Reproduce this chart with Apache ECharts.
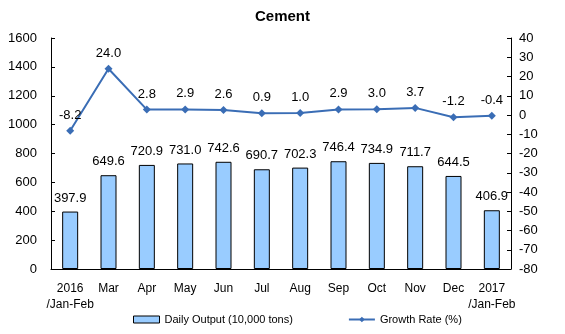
<!DOCTYPE html>
<html>
<head>
<meta charset="utf-8">
<script src="https://cdn.jsdelivr.net/npm/echarts@6/dist/echarts.min.js"></script>
<style>
html,body{margin:0;padding:0;background:#fff;}
#chart{width:565px;height:334px;}
</style>
</head>
<body>
<div id="chart"></div>
<script>
// Monthly cement figures
const categories = ['2016\n/Jan-Feb','Mar','Apr','May','Jun','Jul','Aug','Sep','Oct','Nov','Dec','2017\n/Jan-Feb'];
const dailyOutput = [397.9, 649.6, 720.9, 731.0, 742.6, 690.7, 702.3, 746.4, 734.9, 711.7, 644.5, 406.9];
const growthRate = [-8.2, 24.0, 2.8, 2.9, 2.6, 0.9, 1.0, 2.9, 3.0, 3.7, -1.2, -0.4];

const font = 'Liberation Sans, Arial, sans-serif';
const chart = echarts.init(document.getElementById('chart'));
chart.setOption({
  animation: false,
  textStyle: { fontFamily: font },
  title: {
    text: 'Cement', left: 'center', top: 4,
    textStyle: { fontFamily: font, fontSize: 15, fontWeight: 'bold', color: '#000' }
  },
  grid: { left: 51, right: 54, top: 38, bottom: 65 },
  legend: {
    bottom: 4, left: 128, itemGap: 55, itemWidth: 26, itemHeight: 7,
    textStyle: { fontFamily: font, fontSize: 11, color: '#000' },
    data: [
      { name: 'Daily Output (10,000 tons)', icon: 'rect', itemStyle: { borderColor: '#000', borderWidth: 1 } },
      { name: 'Growth Rate (%)' }
    ]
  },
  xAxis: {
    type: 'category', data: categories,
    axisLine: { lineStyle: { color: '#000' } },
    axisTick: { inside: true, length: 4, lineStyle: { color: '#000' } },
    axisLabel: { interval: 0, color: '#000', fontSize: 12, margin: 12, lineHeight: 16, fontFamily: font }
  },
  yAxis: [
    {
      type: 'value', min: 0, max: 1600, interval: 200,
      splitLine: { show: false },
      axisLine: { show: true, lineStyle: { color: '#000' } },
      axisTick: { show: true, inside: true, length: 4, lineStyle: { color: '#000' } },
      axisLabel: { color: '#000', fontSize: 13, margin: 14, fontFamily: font, formatter: v => String(v) }
    },
    {
      type: 'value', min: -80, max: 40, interval: 10,
      splitLine: { show: false },
      axisLine: { show: true, lineStyle: { color: '#000' } },
      axisTick: { show: true, inside: true, length: 4, lineStyle: { color: '#000' } },
      axisLabel: { color: '#000', fontSize: 13, margin: 8, fontFamily: font }
    }
  ],
  series: [
    {
      name: 'Daily Output (10,000 tons)', type: 'bar', yAxisIndex: 0,
      data: dailyOutput, barWidth: 16,
      itemStyle: { color: '#99ccff', borderColor: '#000', borderWidth: 1 },
      label: {
        show: true, position: 'top', distance: 7, color: '#000', fontSize: 13,
        fontFamily: font, formatter: p => p.value.toFixed(1)
      }
    },
    {
      name: 'Growth Rate (%)', type: 'line', yAxisIndex: 1,
      data: growthRate,
      symbol: 'diamond', symbolSize: 8,
      lineStyle: { color: '#3a6db5', width: 2 },
      itemStyle: { color: '#3a6db5' },
      label: {
        show: true, position: 'top', distance: 5, color: '#000', fontSize: 13,
        fontFamily: font, formatter: p => p.value.toFixed(1)
      }
    }
  ]
});
</script>
</body>
</html>
